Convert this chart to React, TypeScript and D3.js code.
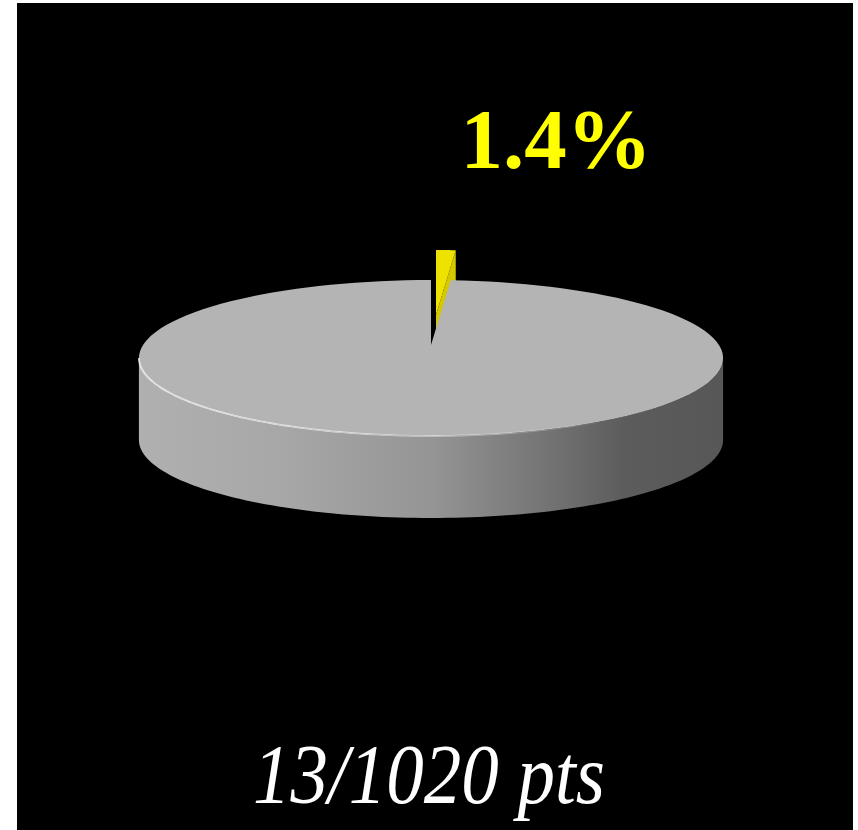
import React from "react";
import * as d3 from "d3";

const sliceLabels = ["hit", "rest"];
const sliceValues = [13, 1007];
const sliceColorsTop = ["#EEE200", "#B4B4B4"];
const sliceColorsSide = ["#D4C800", "#9a9a9a"];
const percentLabel = "1.4%";
const caption = "13/1020 pts";

const W = 858;
const H = 830;
const cx = 431;
const cy = 345;
const A = 288;
const B = 75.8;
const K = 1 / 6;
const DEPTH = 82;
const EXPLODE = [5, -30];

type P = [number, number];

function proj(u: number, v: number): P {
  const w = 1 - K * v;
  return [cx + (A * u) / w, cy + (B * v) / w];
}
function rim(theta: number): P {
  return proj(Math.sin(theta), -Math.cos(theta));
}
function arcPts(a0: number, a1: number, n = 120): P[] {
  const pts: P[] = [];
  for (let i = 0; i <= n; i++) {
    const t = a0 + ((a1 - a0) * i) / n;
    pts.push(rim(t));
  }
  return pts;
}
const down = (p: P): P => [p[0], p[1] + DEPTH];

const line = d3.line<P>().x((d) => d[0]).y((d) => d[1]);
const closed = (pts: P[]) => line(pts) + "Z";

const silA = Math.acos(-K);
const silB = 2 * Math.PI - silA;

export default function App() {
  const pie = d3.pie<number>().sort(null).startAngle(0).endAngle(2 * Math.PI);
  const arcs = pie(sliceValues);
  const center = proj(0, 0);

  const slices = arcs.map((a, i) => {
    const top = closed([center, ...arcPts(a.startAngle, a.endAngle)]);
    const w0 = Math.max(a.startAngle, silA);
    const w1 = Math.min(a.endAngle, silB);
    const wall =
      w1 > w0
        ? closed([...arcPts(w0, w1), ...arcPts(w0, w1).reverse().map(down)])
        : null;
    const cutEnd = closed([center, rim(a.endAngle), down(rim(a.endAngle)), down(center)]);
    const cutStart = closed([center, rim(a.startAngle), down(rim(a.startAngle)), down(center)]);
    return { a, i, top, wall, cutEnd, cutStart };
  });

  const hi = line(arcPts((150 * Math.PI) / 180, silB));
  const [yel, gray] = slices;

  return (
    <svg
      width={W}
      height={H}
      style={{ position: "absolute", left: 0, top: 0 }}
      xmlns="http://www.w3.org/2000/svg"
    >
      <defs>
        <linearGradient id="wallGrad" gradientUnits="userSpaceOnUse" x1={139} y1={0} x2={723} y2={0}>
          <stop offset="0" stopColor="#b0b0b0" />
          <stop offset="0.25" stopColor="#a7a7a7" />
          <stop offset="0.5" stopColor="#959595" />
          <stop offset="0.75" stopColor="#6b6b6b" />
          <stop offset="0.83" stopColor="#5c5c5c" />
          <stop offset="1" stopColor="#575757" />
        </linearGradient>
        <linearGradient id="hiGrad" gradientUnits="userSpaceOnUse" x1={139} y1={0} x2={620} y2={0}>
          <stop offset="0" stopColor="#ffffff" stopOpacity="0.75" />
          <stop offset="0.6" stopColor="#ffffff" stopOpacity="0.5" />
          <stop offset="1" stopColor="#ffffff" stopOpacity="0" />
        </linearGradient>
      </defs>
      <rect x={0} y={0} width={W} height={H} fill="#ffffff" />
      <rect x={17} y={3} width={836} height={H - 3} fill="#000000" />

      <g transform={`translate(${EXPLODE[0]},${EXPLODE[1]})`}>
        <path d={yel.cutStart} fill={sliceColorsSide[0]} />
        <path d={yel.cutEnd} fill={sliceColorsSide[0]} />
        {yel.wall && <path d={yel.wall} fill={sliceColorsSide[0]} />}
        <path d={yel.top} fill={sliceColorsTop[0]} />
      </g>

      {gray.wall && <path d={gray.wall} fill="url(#wallGrad)" />}
      <path d={gray.top} fill={sliceColorsTop[1]} />
      <path d={hi || ""} fill="none" stroke="url(#hiGrad)" strokeWidth={1.8} />

      <text
        x={556}
        y={168}
        textAnchor="middle"
        fontFamily="'Liberation Serif', serif"
        fontWeight="bold"
        fontSize={85}
        fill="#FFFF00"
      >
        {percentLabel}
      </text>
      <text
        x={429}
        y={803}
        textAnchor="middle"
        fontFamily="'Liberation Serif', serif"
        fontStyle="italic"
        fontSize={84}
        fill="#ffffff"
        textLength={352}
        lengthAdjust="spacingAndGlyphs"
      >
        {caption}
      </text>
      <title>{sliceLabels.join(", ")}</title>
    </svg>
  );
}
